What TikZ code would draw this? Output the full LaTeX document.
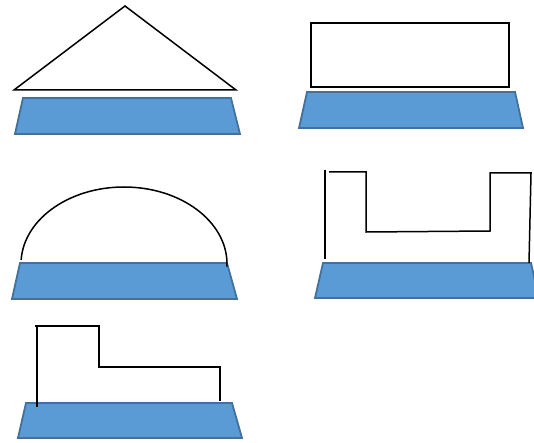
\documentclass[tikz,border=0pt]{standalone}
\definecolor{basefill}{HTML}{5B9BD5}
\definecolor{baseline}{HTML}{41719C}
\tikzset{
  basebox/.style={fill=basefill, draw=baseline, line width=1.8pt, line join=miter},
  outline/.style={draw=black, line width=1.5pt},
}
\begin{document}
\begin{tikzpicture}[x=1pt,y=-1pt]
\useasboundingbox (0,0) rectangle (534,443);
% 1: triangle
\draw[outline, line join=miter] (14,90) -- (125,6) -- (236,90) -- cycle;
\draw[basebox] (23,98) -- (231,98) -- (240,134) -- (15,134) -- cycle;
% 2: rectangle
\draw[outline] (311,23) rectangle (509,87);
\draw[basebox] (307,92) -- (515,92) -- (523,128) -- (299,128) -- cycle;
% 3: arch
\draw[basebox] (20,263) -- (227,263) -- (237,299) -- (12,299) -- cycle;
\draw[outline] (124,264) ++(183:103 and 77) arc[start angle=183, end angle=362, x radius=103, y radius=77];
% 4: U shape
\draw[basebox] (323,263) -- (531,263) -- (539,298) -- (315,298) -- cycle;
\draw[outline] (325,170) -- (325,259);
\draw[outline] (329,172) -- (366,172) -- (366,232) -- (490,231) -- (490,173) -- (531,173) -- (529,263);
% 5: step
\draw[basebox] (26,403) -- (232,403) -- (242,438) -- (18,438) -- cycle;
\draw[outline] (37,407) -- (37,326) -- (99,326) -- (99,367) -- (220,367) -- (220,401);
\draw[outline] (35,326) -- (37,326);
\end{tikzpicture}
\end{document}
